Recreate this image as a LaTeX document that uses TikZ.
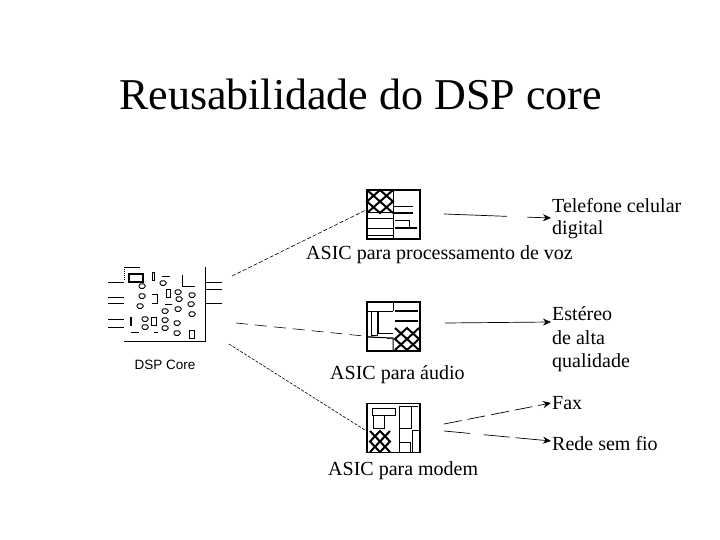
\documentclass[tikz,border=0pt]{standalone}
\usepackage{fontspec}
\setmainfont{Liberation Serif}
\newfontfamily\dspfont{Liberation Sans}
\usetikzlibrary{arrows.meta}
\begin{document}
\begin{tikzpicture}[x=1pt,y=-1pt,>={Stealth[length=8pt,width=7pt]},
  txt/.style={inner sep=0pt,anchor=base west,font=\fontsize{20}{24}\selectfont},
  chip/.style={draw,line width=1.4pt,minimum width=53pt,minimum height=49pt,inner sep=0pt},
  link/.style={dash pattern=on 4pt off 2pt,line width=0.6pt},
  arrow/.style={->,line width=0.7pt},
  wire/.style={line width=1pt},
  hatch/.style={line width=2pt},
  part/.style={draw,line width=1pt,rounded corners=1.5pt,minimum width=6pt,minimum height=4.5pt,inner sep=0pt}]
\useasboundingbox (0,0) rectangle (720,540);
\node[inner sep=0pt,anchor=base west,font=\fontsize{44}{52}\selectfont] (title) at (119,110) {Reusabilidade do DSP core};
% DSP core
\coordinate (dspTL) at (124,267);
\coordinate (dspTR) at (205,267);
\coordinate (dspBL) at (124,341);
\coordinate (dspBR) at (205,341);
\coordinate (dspA) at (232,276);
\coordinate (dspB) at (236,323);
\coordinate (dspC) at (229,344);
\draw[wire] (dspTR) -- (dspBR) -- (dspBL);
\draw[wire,densely dotted] (dspTL) -- (124,281);
\draw[wire] (dspTL) -- (140,267);
\foreach \y in {282,297,303,319,327} \draw[wire] (108,\y) -- (124,\y);
\foreach \y in {282,289,303} \draw[wire] (205,\y) -- (222,\y);
\draw[wire] (182,275) -- (182,286) -- (195,286);
\draw[line width=1.4pt] (129,274) rectangle (143,282);
\draw[wire] (152,272) rectangle (154,280);
\draw[wire] (166,289) rectangle (170,297);
\draw[wire] (152,294) -- (157,294) -- (157,303) -- (152,303);
\draw[wire] (151,317) rectangle (156,325);
\draw[wire] (189,330) rectangle (194,338);
\draw[line width=2pt] (131,317) -- (131,326);
\draw[wire] (162,276) -- (170,276);
\draw[wire] (165,304) -- (172,304);
\draw[wire] (131,332) -- (139,332);
\draw[wire] (154,332) -- (158,332);
\foreach \n/\x/\y in {a/142/286,b/142/296,c/140/306,d/145/319,e/145/327,f/163/283,g/165/311,h/165/320,
  i/165/328,j/178/292,k/179/299,l/178/309,m/192/295,n/191/304,o/192/314,p/177/323,q/177/333}
  \node[part] (gate\n) at (\x,\y) {};
\node[inner sep=0pt,font=\fontsize{13.5}{15}\dspfont] (dsp) at (165,365) {DSP Core};
% chips
\node[chip] (chipA) at (393.5,214.5) {};
\node[chip] (chipB) at (393.5,326.5) {};
\node[chip] (chipC) at (393.5,428) {};
\draw[hatch] (367,190) -- (393,213) (393,190) -- (367,213);
\draw[hatch] (380,190) -- (367,201.5) -- (380,213) -- (393,201.5) -- cycle;
\draw[wire] (393,190) -- (393,239);
\draw[wire] (367,213) -- (393,213) (367,219) -- (393,219) (367,229) -- (393,229) (367,235) -- (393,235);
\draw[wire] (393,207) -- (413,207);
\draw[line width=2pt] (393,213) -- (413,213);
\draw[wire] (395,221) -- (409,221) -- (409,228);
\draw[line width=1.6pt] (395,228) -- (417,228);
\draw[wire] (371,311) rectangle (377,335);
\draw[wire] (367,311) -- (393,311) (378,311) -- (378,333) -- (393,333);
\draw[wire] (393,303) -- (393,311);
\draw[wire] (367,337) -- (393,338) -- (393,350);
\draw[line width=1.6pt] (395,311) -- (418,311) (395,321) -- (418,321);
\draw[hatch] (395,328) -- (419,350) (419,328) -- (395,350);
\draw[hatch] (407,328) -- (395,339) -- (407,350) -- (419,339) -- cycle;
\draw[wire] (372,408) rectangle (395,415);
\draw[wire] (373,415) rectangle (384,428);
\draw[wire] (399,406) -- (399,452);
\draw[wire] (399,406) -- (418,406) (411,406) -- (411,428) -- (399,428);
\draw[wire] (399,442) -- (410,442) -- (410,452);
\draw[wire] (412,452) -- (412,430) -- (419,430);
\draw[hatch] (370,431) -- (390,452) (390,431) -- (370,452);
\draw[hatch] (380,431) -- (370,441.5) -- (380,452) -- (390,441.5) -- cycle;
% connectors
\coordinate (inA) at (368,209);
\coordinate (inB) at (393,339);
\coordinate (inC) at (368,432);
\draw[link] (dspA) -- (inA);
\draw[link,dash pattern=on 12pt off 7pt] (dspB) -- (inB);
\draw[link,dash pattern=on 3pt off 1.5pt] (dspC) -- (inC);
\coordinate (outA) at (444,214);
\coordinate (outB) at (445,323);
\coordinate (outC) at (444,424);
\coordinate (outD) at (444,431);
% labels
\node[txt] (tel) at (552,212) {Telefone celular};
\node[txt] (dig) at (552,235) {digital};
\node[txt] (voz) at (306,259.5) {ASIC para processamento de voz};
\node[txt] (est) at (552,320) {Estéreo};
\node[txt] (alta) at (552,344) {de alta};
\node[txt] (qual) at (552,367) {qualidade};
\node[txt] (aud) at (330,379) {ASIC para áudio};
\node[txt] (fax) at (552,409) {Fax};
\node[txt] (fio) at (552,450) {Rede sem fio};
\node[txt] (mod) at (328,475) {ASIC para modem};
\coordinate (endA) at (551,218);
\coordinate (endB) at (551,322);
\coordinate (endC) at (551,403);
\coordinate (endD) at (551,441);
\draw[arrow,dash pattern=on 63pt off 20pt on 40pt] (outA) -- (endA);
\draw[arrow] (outB) -- (endB);
\draw[arrow,dash pattern=on 18pt off 6pt] (outC) -- (endC);
\draw[arrow,dash pattern=on 26pt off 14pt on 26pt off 6pt on 40pt] (outD) -- (endD);
\end{tikzpicture}
\end{document}
